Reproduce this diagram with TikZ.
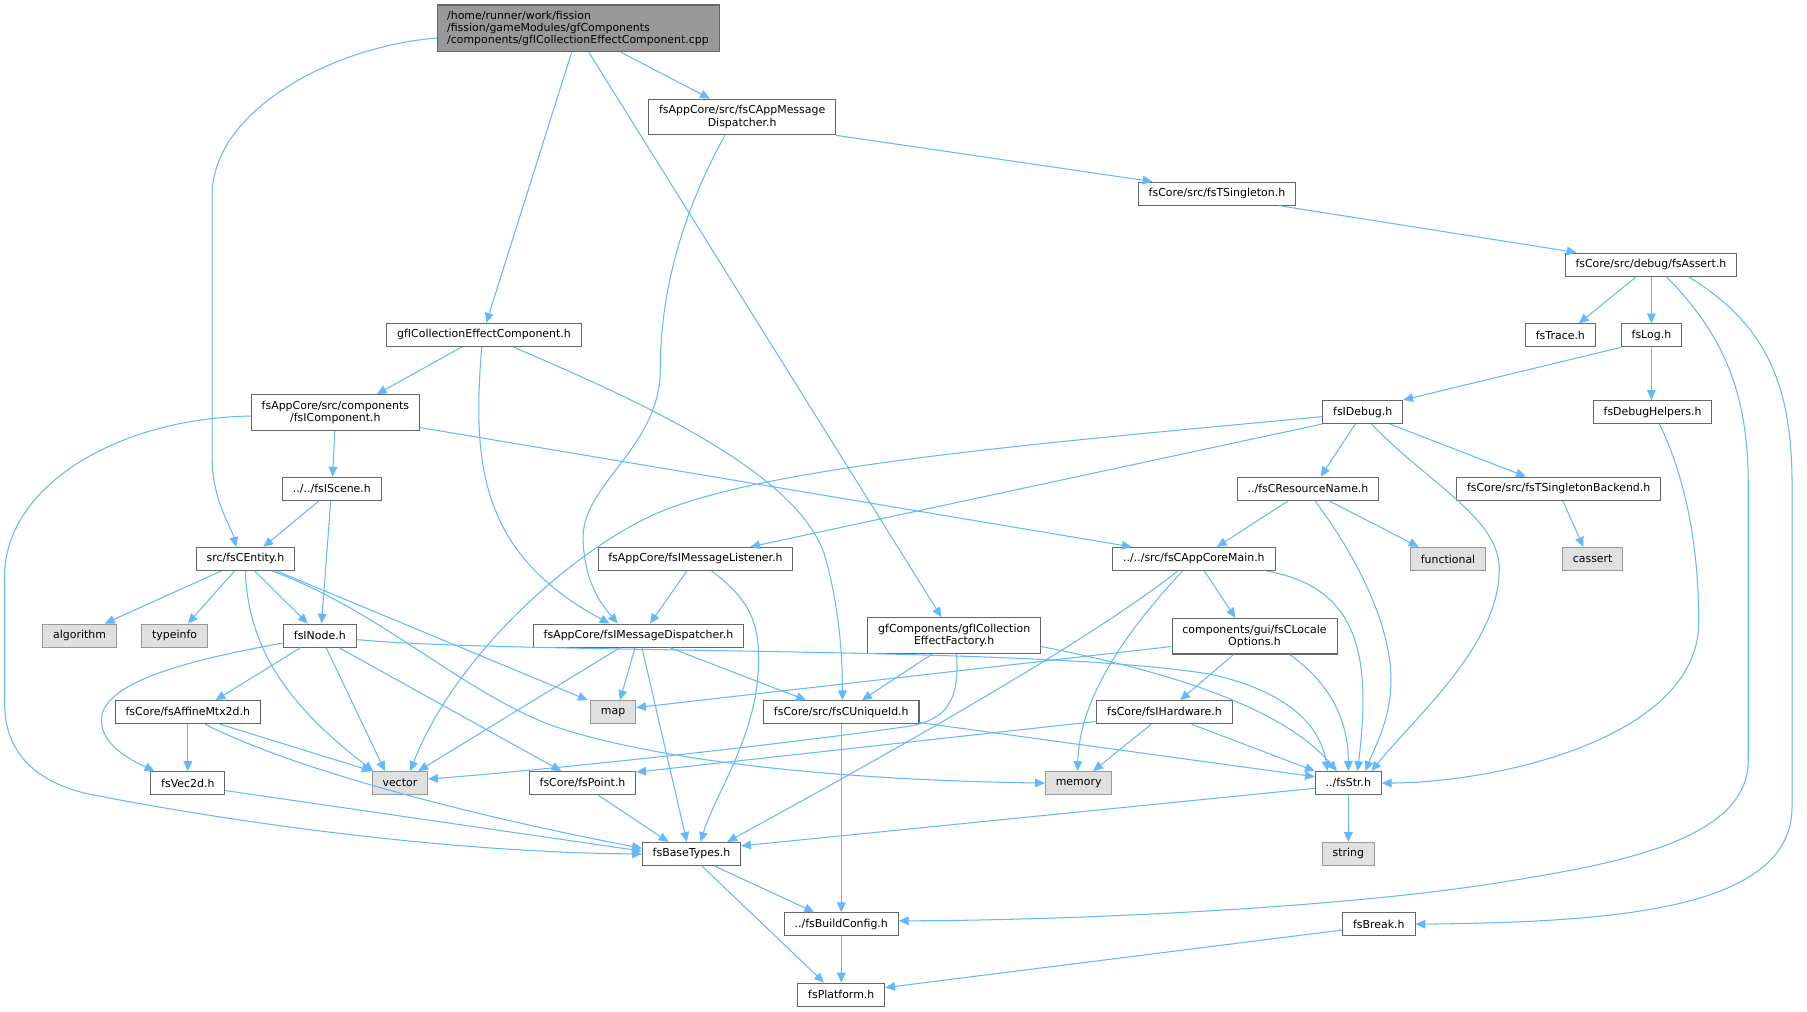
\documentclass[tikz,border=0pt]{standalone}
\usepackage{fontspec}
\setmainfont{DejaVu Sans}
\usetikzlibrary{arrows.meta}
\definecolor{edgec}{HTML}{63B8FF}
\definecolor{bordc}{HTML}{666666}
\definecolor{extb}{HTML}{999999}
\definecolor{extf}{HTML}{E0E0E0}
\definecolor{mainf}{HTML}{999999}
\begin{document}
\begin{tikzpicture}[x=1pt,y=-1pt,
  box/.style={draw=bordc, fill=white, line width=0.9pt, inner xsep=9pt, inner ysep=0pt,
    minimum height=20pt, font=\fontsize{9.5}{10.6}\selectfont, align=center},
  two/.style={minimum height=31pt},
  ext/.style={box, draw=extb, fill=extf},
  edge/.style={draw=edgec, line width=0.9pt, -{Triangle[length=8.5pt,width=7.5pt]}}]
\fill[white] (0,0) rectangle (1568,878);
\useasboundingbox (0,0) rectangle (1568,878);

% nodes
\node[box, fill=mainf, text width=228pt, inner xsep=8.5pt, align=left, minimum height=40.7pt] (main) at (502,24.7)
  {/home/runner/work/fission\\/fission/gameModules/gfComponents\\/components/gfICollectionEffectComponent.cpp};
\node[box, two] (appmsg) at (644,101.5) {fsAppCore/src/fsCAppMessage\\Dispatcher.h};
\node[box] (tsing) at (1056,168) {fsCore/src/fsTSingleton.h};
\node[box] (assert) at (1432.6,229.6) {fsCore/src/debug/fsAssert.h};
\node[box] (trace) at (1354,291) {fsTrace.h};
\node[box] (log) at (1433,291) {fsLog.h};
\node[box] (idebug) at (1182.5,357.5) {fsIDebug.h};
\node[box] (dbgh) at (1434,357.5) {fsDebugHelpers.h};
\node[box] (resname) at (1135,424) {../fsCResourceName.h};
\node[box] (tsb) at (1352.5,424) {fsCore/src/fsTSingletonBackend.h};
\node[ext] (functional) at (1256.5,485) {functional};
\node[ext] (cassert) at (1382,485) {cassert};
\node[box] (appcore) at (1036,485) {../../src/fsCAppCoreMain.h};
\node[box] (gfICEC) at (420,290.5) {gfICollectionEffectComponent.h};
\node[box, two] (icomp) at (291,358) {fsAppCore/src/components\\/fsIComponent.h};
\node[box] (iscene) at (288,424) {../../fsIScene.h};
\node[box] (centity) at (213,485) {src/fsCEntity.h};
\node[box] (listener) at (603.5,485) {fsAppCore/fsIMessageListener.h};
\node[box] (dispatcher) at (554,551.5) {fsAppCore/fsIMessageDispatcher.h};
\node[box, two] (factory) at (828,551.5) {gfComponents/gfICollection\\EffectFactory.h};
\node[box, two] (locale) at (1088.6,552) {components/gui/fsCLocale\\Options.h};
\node[ext] (algorithm) at (69,551.5) {algorithm};
\node[ext] (typeinfo) at (151.5,551.5) {typeinfo};
\node[box] (inode) at (277.5,551.5) {fsINode.h};
\node[ext] (map) at (532,618) {map};
\node[box] (uniqueid) at (730,618) {fsCore/src/fsCUniqueId.h};
\node[box] (hardware) at (1010.5,618) {fsCore/fsIHardware.h};
\node[box] (affine) at (163,618) {fsCore/fsAffineMtx2d.h};
\node[ext] (vector) at (347,679.5) {vector};
\node[box] (vec2d) at (163,679.5) {fsVec2d.h};
\node[box] (point) at (505.5,679.5) {fsCore/fsPoint.h};
\node[ext] (memory) at (936,679.5) {memory};
\node[box] (str) at (1170,679.5) {../fsStr.h};
\node[ext] (string) at (1170,741) {string};
\node[box] (basetypes) at (600,741) {fsBaseTypes.h};
\node[box] (buildconfig) at (730,802) {../fsBuildConfig.h};
\node[box] (break) at (1196.5,802) {fsBreak.h};
\node[box] (platform) at (730,863) {fsPlatform.h};

% main
\draw[edge] (main.west |- 0,33) .. controls (290,40) and (184,95) .. (184,170) -- (184,395) .. controls (184,435) and (200,455) .. (centity.north -| 205,0);
\draw[edge] (main.south -| 496,0) -- (gfICEC.north -| 422,0);
\draw[edge] (main.south -| 511,0) -- (factory.north -| 817,0);
\draw[edge] (main.south -| 539,0) -- (appmsg.north -| 616,0);
% appmsg
\draw[edge] (appmsg.south east) -- (tsing.north -| 1000,0);
\draw[edge] (appmsg.south -| 629,0) .. controls (600,170) and (573,240) .. (573,320) .. controls (573,390) and (503,420) .. (506,470) .. controls (508,510) and (525,528) .. (dispatcher.north -| 536,0);
% tsing
\draw[edge] (tsing.south -| 1110,0) -- (assert.north -| 1368,0);
% assert
\draw[edge] (assert.south -| 1420,0) -- (trace.north -| 1370,0);
\draw[edge] (assert.south -| 1433,0) -- (log.north -| 1433,0);
\draw[edge] (assert.south -| 1446,0) .. controls (1495,290) and (1517,340) .. (1517,420) -- (1517,660) .. controls (1517,730) and (1400,750) .. (1300,766) .. controls (1150,790) and (900,799) .. (buildconfig.east |- 0,799);
\draw[edge] (assert.south -| 1465,0) .. controls (1530,280) and (1555,330) .. (1555,420) -- (1555,700) .. controls (1555,790) and (1400,800) .. (break.east);
% log
\draw[edge] (log.south west) -- (idebug.north east);
\draw[edge] (log.south -| 1433,0) -- (dbgh.north -| 1433,0);
% debug helpers
\draw[edge] (dbgh.south -| 1440,0) .. controls (1465,420) and (1474,480) .. (1474,540) .. controls (1474,640) and (1300,679) .. (str.east);
% idebug
\draw[edge] (idebug.west |- 0,361.5) .. controls (900,385) and (650,405) .. (560,450) .. controls (480,490) and (390,580) .. (vector.north -| 356,0);
\draw[edge] (idebug.south west) -- (listener.north -| 651,0);
\draw[edge] (idebug.south -| 1176,0) -- (resname.north -| 1146,0);
\draw[edge] (idebug.south -| 1190,0) .. controls (1240,420) and (1302,450) .. (1301,495) .. controls (1300,560) and (1230,620) .. (str.north -| 1190,0);
\draw[edge] (idebug.south -| 1206,0) -- (tsb.north -| 1324,0);
% tsb
\draw[edge] (tsb.south -| 1356,0) -- (cassert.north -| 1374,0);
% resname
\draw[edge] (resname.south -| 1118,0) -- (appcore.north -| 1056,0);
\draw[edge] (resname.south -| 1153,0) -- (functional.north -| 1231,0);
\draw[edge] (resname.south -| 1141,0) .. controls (1175,480) and (1207,540) .. (1207,590) .. controls (1207,625) and (1192,650) .. (str.north -| 1185,0);
% appcore
\draw[edge] (appcore.south -| 1045,0) -- (locale.north -| 1072,0);
\draw[edge] (appcore.south -| 1026,0) .. controls (985,540) and (937,600) .. (memory.north -| 935,0);
\draw[edge] (appcore.south -| 1022,0) .. controls (940,560) and (760,660) .. (basetypes.north -| 631,0);
\draw[edge] (appcore.south -| 1099,0) .. controls (1180,510) and (1190,570) .. (str.north -| 1178,0);
% gfICEC
\draw[edge] (gfICEC.south -| 401,0) -- (icomp.north -| 327,0);
\draw[edge] (gfICEC.south -| 418,0) .. controls (410,400) and (415,480) .. (dispatcher.north -| 529,0);
\draw[edge] (gfICEC.south -| 445,0) .. controls (560,350) and (690,410) .. (715,480) .. controls (730,530) and (731,580) .. (uniqueid.north -| 731,0);
% icomp
\draw[edge] (icomp.south -| 290.5,0) -- (iscene.north -| 288.6,0);
\draw[edge] (icomp.west |- 0,361) .. controls (100,363) and (4,423) .. (4,500) -- (4,610) .. controls (4,660) and (40,683) .. (87,691) .. controls (250,722) and (420,740) .. (basetypes.west);
\draw[edge] (icomp.east |- 0,371) -- (appcore.north -| 982,0);
% iscene
\draw[edge] (iscene.south -| 277,0) -- (centity.north -| 228.5,0);
\draw[edge] (iscene.south -| 287,0) -- (inode.north -| 279,0);
% centity
\draw[edge] (centity.south -| 192,0) -- (algorithm.north -| 91,0);
\draw[edge] (centity.south -| 203.5,0) -- (typeinfo.north -| 163,0);
\draw[edge] (centity.south -| 221,0) -- (inode.north -| 267,0);
\draw[edge] (centity.south -| 213,0) .. controls (215,570) and (260,620) .. (vector.north -| 324,0);
\draw[edge] (centity.south -| 240,0) -- (map.north -| 510,0);
\draw[edge] (centity.south -| 236,0) .. controls (330,530) and (400,600) .. (480,630) .. controls (600,670) and (800,678) .. (memory.west);
% listener
\draw[edge] (listener.south -| 596,0) -- (dispatcher.north -| 564,0);
\draw[edge] (listener.south -| 617.5,0) .. controls (650,520) and (660,540) .. (658,580) .. controls (656,640) and (620,690) .. (basetypes.north -| 608,0);
% dispatcher
\draw[edge] (dispatcher.south -| 551,0) -- (map.north -| 538,0);
\draw[edge] (dispatcher.south -| 538,0) -- (vector.north -| 363,0);
\draw[edge] (dispatcher.south -| 581,0) -- (uniqueid.north -| 699.5,0);
\draw[edge] (dispatcher.south -| 557,0) -- (basetypes.north -| 596,0);
% factory
\draw[edge] (factory.south -| 809,0) -- (uniqueid.north -| 748,0);
\draw[edge] (factory.south -| 830,0) .. controls (833,610) and (820,624) .. (790,630) .. controls (650,650) and (450,670) .. (vector.east |- 0,676);
\draw[edge] (factory.east |- 0,561) .. controls (1000,580) and (1110,610) .. (str.north -| 1160,0);
% locale
\draw[edge] (locale.west |- 0,561) -- (map.east |- 0,614);
\draw[edge] (locale.south -| 1070.5,0) -- (hardware.north -| 1024,0);
\draw[edge] (locale.south -| 1119,0) .. controls (1150,590) and (1170,620) .. (str.north -| 1170,0);
% inode
\draw[edge] (inode.south -| 261,0) -- (affine.north -| 187,0);
\draw[edge] (inode.west |- 0,558) .. controls (150,575) and (88,595) .. (88,625) .. controls (88,645) and (110,658) .. (vec2d.north -| 134,0);
\draw[edge] (inode.south -| 283,0) -- (vector.north -| 334,0);
\draw[edge] (inode.south -| 294,0) -- (point.north -| 487,0);
\draw[edge] (inode.east |- 0,555) .. controls (450,568) and (900,560) .. (1050,585) .. controls (1110,598) and (1145,625) .. (str.north -| 1152,0);
% uniqueid
\draw[edge] (uniqueid.south -| 730,0) -- (buildconfig.north -| 730,0);
\draw[edge] (uniqueid.east |- 0,627) -- (str.west |- 0,674);
% hardware
\draw[edge] (hardware.west |- 0,626) -- (point.east |- 0,670);
\draw[edge] (hardware.south -| 999,0) -- (memory.north -| 948.6,0);
\draw[edge] (hardware.south -| 1034,0) -- (str.north west);
% affine
\draw[edge] (affine.south) -- (vec2d.north);
\draw[edge] (affine.south -| 191,0) -- (vector.north west);
\draw[edge] (affine.south -| 178,0) .. controls (260,670) and (420,710) .. (basetypes.west |- 0,736);
% vec2d, point
\draw[edge] (vec2d.east |- 0,686) -- (basetypes.west |- 0,738.5);
\draw[edge] (point.south -| 519,0) -- (basetypes.north -| 580,0);
% str
\draw[edge] (str.south) -- (string.north);
\draw[edge] (str.west |- 0,684) -- (basetypes.east |- 0,734);
% basetypes
\draw[edge] (basetypes.south -| 620,0) -- (buildconfig.north -| 706.5,0);
\draw[edge] (basetypes.south -| 609,0) -- (platform.north -| 715,0);
\draw[edge] (buildconfig.south) -- (platform.north);
\draw[edge] (break.west |- 0,807) -- (platform.east |- 0,857);
\end{tikzpicture}
\end{document}
